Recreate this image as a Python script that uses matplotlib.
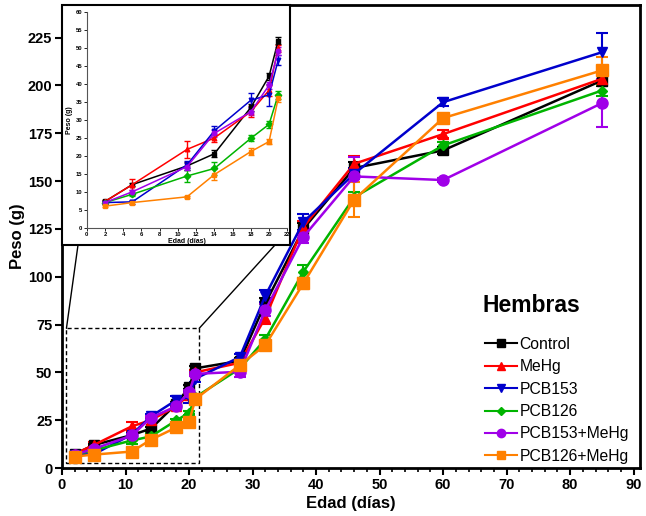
import matplotlib
matplotlib.use("Agg")
import matplotlib.pyplot as plt
from matplotlib.patches import Rectangle, ConnectionPatch
from matplotlib.lines import Line2D
from matplotlib.ticker import MultipleLocator

plt.rcParams['font.family'] = ['Liberation Sans', 'DejaVu Sans']

days = [2, 5, 11, 14, 18, 20, 21, 28, 32, 38, 46, 60, 85]

groups = ["Control", "MeHg", "PCB153", "PCB126", "PCB153+MeHg", "PCB126+MeHg"]

control = [7.3, 12, 17.2, 20.6, 33.5, 42.2, 52.1, 56, 86, 125, 156.8, 166, 202.5]
control_err = [0.5, 0.5, 1, 1, 1, 1, 1, 1.5, 3, 3, 3, 2, 3]

mehg = [7.3, 12, 21.8, 25, 32.3, 38.3, 50, 55, 78.5, 126, 159, 174.5, 203.4]
mehg_err = [0.5, 1.5, 2.3, 1, 1.5, 1.5, 1, 1.5, 3, 3, 4, 2, 3]

pcb153 = [7, 7.2, 17.5, 27, 35.5, 37, 46.7, 58, 90, 128.6, 153.8, 191.2, 217.3]
pcb153_err = [0.5, 0.5, 1, 1.3, 2, 3, 1.5, 1.5, 3, 4, 3, 2, 10]

pcb126 = [7, 9.3, 14.4, 16.5, 24.9, 28.8, 37, 52, 67.3, 102.6, 141.5, 168.6, 197.3]
pcb126_err = [0.5, 0.5, 1.7, 1.8, 0.8, 1, 1.2, 1.5, 2, 3.5, 3, 2, 3]

pcb153_mehg = [7, 10, 17, 26.3, 32.3, 39.7, 49.2, 50.3, 82.5, 120.8, 152.4, 150.5, 190.7]
pcb153_mehg_err = [0.5, 0.5, 1, 1, 1, 1, 1, 2.5, 3, 3, 10, 1, 12.5]

pcb126_mehg = [6, 7, 8.6, 14.8, 21.2, 24, 36, 53.8, 64.2, 96.5, 140.3, 182.9, 207.8]
pcb126_mehg_err = [0.3, 0.5, 0.3, 1.6, 1, 0.7, 1, 1.5, 2, 3, 9, 2, 7]

series = [control, mehg, pcb153, pcb126, pcb153_mehg, pcb126_mehg]
errors = [control_err, mehg_err, pcb153_err, pcb126_err, pcb153_mehg_err, pcb126_mehg_err]
colors = ["#000000", "#FF0000", "#0000CC", "#00B400", "#A000E8", "#FF8000"]
markers = ["s", "^", "v", "D", "o", "s"]
msizes = [7, 7, 7, 5, 8, 8]

W, H = 646, 516
fig = plt.figure(figsize=(W / 100, H / 100), dpi=100)

# Main axes
ax = fig.add_axes([62 / W, (H - 468) / H, 578 / W, 463 / H])
for vals, errs, c, m, ms, name in zip(series, errors, colors, markers, msizes, groups):
    ax.errorbar(days, vals, yerr=errs, color=c, marker=m, markersize=ms,
                lw=1.8, elinewidth=1.5, capsize=4, capthick=1.5, label=name)

ax.set_xlim(0, 91)
ax.set_ylim(0, 242)
ax.xaxis.set_major_locator(MultipleLocator(10))
ax.xaxis.set_minor_locator(MultipleLocator(2))
ax.yaxis.set_major_locator(MultipleLocator(25))
ax.tick_params(axis='both', which='major', direction='out', length=5, width=1.5,
               labelsize=10.5, pad=2)
ax.tick_params(axis='x', which='minor', direction='out', length=3, width=1.2)
for lbl in ax.get_xticklabels() + ax.get_yticklabels():
    lbl.set_fontweight('bold')
for s in ax.spines.values():
    s.set_linewidth(2)
ax.set_xlabel("Edad (días)", fontsize=12, fontweight='bold', labelpad=3)
ax.set_ylabel("Peso (g)", fontsize=12, fontweight='bold', labelpad=2)

handles = [Line2D([], [], color=c, marker=m, markersize=6 if m != 'D' else 4.5, lw=1.5)
           for c, m in zip(colors, markers)]
leg = ax.legend(handles=handles, labels=groups, loc='lower left',
                bbox_to_anchor=(0.728, 0.004), frameon=False, fontsize=11.3,
                handlelength=2.0, handletextpad=0.2, labelspacing=0.47,
                borderpad=0.15, borderaxespad=0.0)
ax.text(0.728, 0.352, "Hembras", transform=ax.transAxes, fontsize=16.5,
        fontweight='bold', ha='left', va='center')

# Dashed zoom rectangle
rx0, ry0, rx1, ry1 = 0.7, 2.5, 21.6, 73
ax.add_patch(Rectangle((rx0, ry0), rx1 - rx0, ry1 - ry0, fill=False,
                       ls=(0, (3, 2)), lw=1, ec='black', zorder=1))

# Inset frame box
box_left, box_top, box_right, box_bottom = 62, 5, 290, 245
fig.patches.append(Rectangle((box_left / W, (H - box_bottom) / H),
                             (box_right - box_left) / W, (box_bottom - box_top) / H,
                             transform=fig.transFigure, fill=True, fc='white',
                             ec='black', lw=1.5, zorder=2))

for xd, xf in [(rx0, 78), (rx1, 275)]:
    con = ConnectionPatch(xyA=(xd, ry1), coordsA=ax.transData,
                          xyB=(xf / W, (H - box_bottom) / H), coordsB=fig.transFigure,
                          color='black', lw=1)
    fig.add_artist(con)

# Inset axes
ins = fig.add_axes([86.7 / W, (H - 227.7) / H, 200.6 / W, 215.4 / H], zorder=3)
for vals, errs, c, m in zip(series, errors, colors, markers):
    ins.errorbar(days[:7], vals[:7], yerr=errs[:7], color=c, marker=m, markersize=3.3,
                 lw=1.1, elinewidth=1, capsize=2.2, capthick=1)
ins.set_xlim(0, 22)
ins.set_ylim(0, 60)
ins.xaxis.set_major_locator(MultipleLocator(2))
ins.yaxis.set_major_locator(MultipleLocator(5))
ins.tick_params(axis='both', direction='out', length=2, width=0.6, labelsize=4.2, pad=1)
for lbl in ins.get_xticklabels() + ins.get_yticklabels():
    lbl.set_fontweight('bold')
ins.spines['top'].set_visible(False)
ins.spines['right'].set_visible(False)
for s in ['left', 'bottom']:
    ins.spines[s].set_linewidth(0.8)
    ins.spines[s].set_color('#555555')
ins.set_xlabel("Edad (días)", fontsize=5, fontweight='bold', labelpad=1)
ins.set_ylabel("Peso (g)", fontsize=5, fontweight='bold', labelpad=2)

fig.savefig("out.png", dpi=100)
